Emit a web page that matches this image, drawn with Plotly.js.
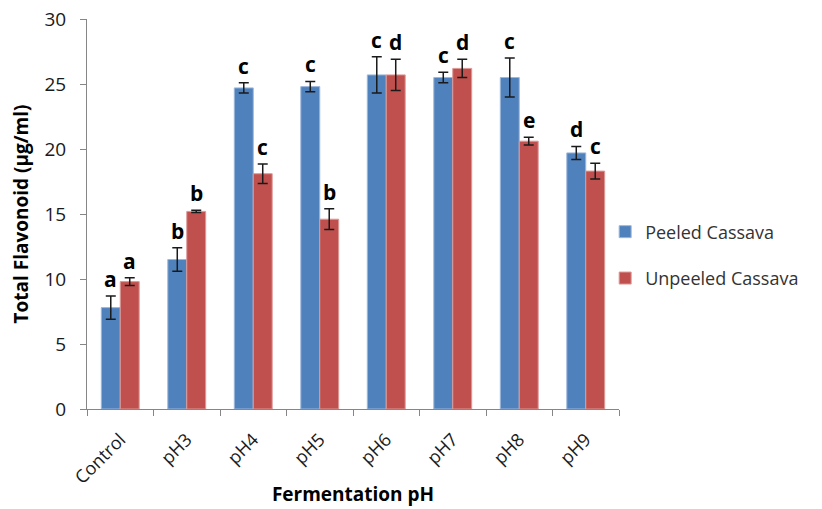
<!DOCTYPE html>
<html>
<head>
<meta charset="utf-8">
<script src="https://cdn.plot.ly/plotly-3.0.1.min.js"></script>
<style>html,body{margin:0;padding:0;background:#fff;}#chart{width:822px;height:509px;}</style>
</head>
<body>
<div id="chart"></div>
<script>
const categories = ["Control", "pH3", "pH4", "pH5", "pH6", "pH7", "pH8", "pH9"];
const peeled = [7.8, 11.5, 24.7, 24.8, 25.7, 25.5, 25.5, 19.7];
const peeledErr = [0.9, 0.9, 0.4, 0.4, 1.4, 0.4, 1.5, 0.5];
const peeledLetters = ["a", "b", "c", "c", "c", "c", "c", "d"];
const unpeeled = [9.8, 15.2, 18.1, 14.6, 25.7, 26.2, 20.6, 18.3];
const unpeeledErr = [0.3, 0.08, 0.75, 0.8, 1.2, 0.7, 0.3, 0.6];
const unpeeledLetters = ["a", "b", "c", "b", "d", "d", "e", "c"];

const FONT = "Open Sans, Liberation Sans, Arial, sans-serif";
const traces = [
  {
    type: "bar", name: "Peeled Cassava", x: categories, y: peeled, legendgroup: "p",
    marker: {color: "#4F81BD", line: {color: "#9DB7DA", width: 1}},
    error_y: {type: "data", array: peeledErr, visible: true, color: "#1a1a1a", thickness: 1.5, width: 5}
  },
  {
    type: "bar", name: "Unpeeled Cassava", x: categories, y: unpeeled, legendgroup: "u",
    marker: {color: "#C0504D", line: {color: "#DC9A98", width: 1}},
    error_y: {type: "data", array: unpeeledErr, visible: true, color: "#1a1a1a", thickness: 1.5, width: 5}
  }
];

const annotations = [];
const shift = 9.5;
function addLetters(vals, errs, letters, xs) {
  categories.forEach((c, i) => {
    annotations.push({x: c, y: vals[i] + errs[i], text: "<b>" + letters[i] + "</b>", showarrow: false,
      xshift: xs, yanchor: "bottom", yshift: 1, font: {family: FONT, size: 21, color: "#000"}});
  });
}
addLetters(peeled, peeledErr, peeledLetters, -shift);
addLetters(unpeeled, unpeeledErr, unpeeledLetters, shift);

const layout = {
  width: 822, height: 509,
  margin: {l: 87, r: 203, t: 19, b: 100},
  paper_bgcolor: "#fff", plot_bgcolor: "#fff",
  barmode: "group", bargap: 0.43, bargroupgap: 0,
  font: {family: FONT, color: "#000"},
  xaxis: {
    type: "category", showline: true, linecolor: "#868686", linewidth: 1,
    ticks: "outside", tickson: "boundaries", ticklen: 6, tickcolor: "#868686",
    tickangle: -45, tickfont: {family: FONT, size: 18, color: "#1a1a1a"}, ticklabelstandoff: 12,
    showgrid: false,
    title: {text: "<b>Fermentation pH</b>", font: {family: FONT, size: 19, color: "#000"}, standoff: 0}
  },
  yaxis: {
    range: [0, 30], dtick: 5, showline: true, linecolor: "#868686", linewidth: 1,
    ticks: "outside", ticklen: 6, tickcolor: "#868686", showgrid: false, zeroline: false,
    tickfont: {family: FONT, size: 19, color: "#1a1a1a"}, ticklabelstandoff: 10,
    title: {text: "<b>Total Flavonoid (µg/ml)</b>", font: {family: FONT, size: 19, color: "#000"}, standoff: 10}
  },
  legend: {
    x: 0.974, xanchor: "left", xref: "paper", y: 0.395, yanchor: "middle",
    font: {family: FONT, size: 18, color: "#333"}, traceorder: "grouped", tracegroupgap: 20,
    itemwidth: 30, bgcolor: "rgba(0,0,0,0)"
  },
  annotations: annotations,
  showlegend: true
};

Plotly.newPlot("chart", traces, layout, {displayModeBar: false, staticPlot: true});
</script>
</body>
</html>
